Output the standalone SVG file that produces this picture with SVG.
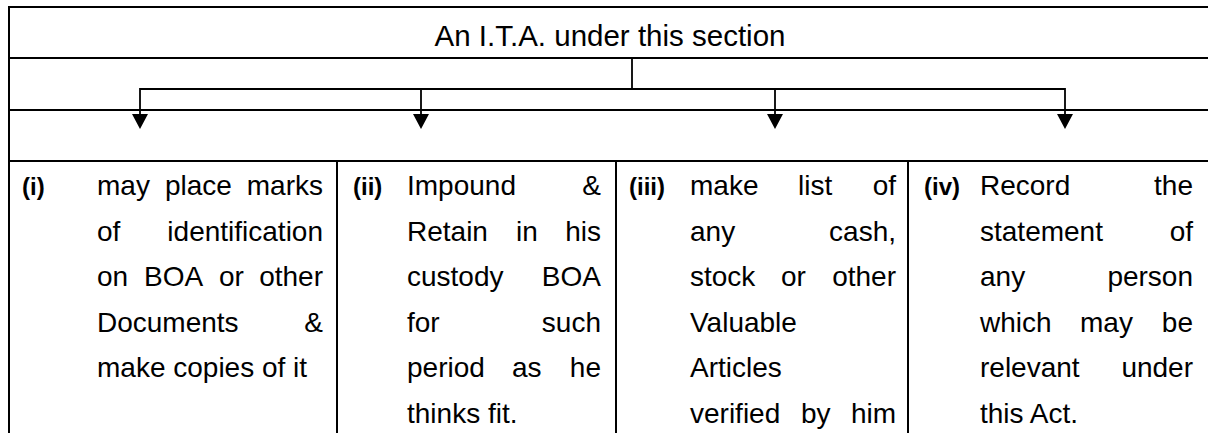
<svg xmlns="http://www.w3.org/2000/svg" width="1208" height="433" viewBox="0 0 1208 433">
<style>
  .grid { stroke: #000; stroke-width: 2; fill: none; }
  .conn { stroke: #000; stroke-width: 1.8; fill: none; }
  .t { font-family: "Liberation Sans", Arial, sans-serif; font-size: 28px; fill: #000; }
  .title { font-family: "Liberation Sans", Arial, sans-serif; font-size: 29.5px; fill: #000; text-anchor: middle; }
  .lbl { font-family: "Liberation Sans", Arial, sans-serif; font-size: 24px; font-weight: bold; fill: #000; }
  .e { text-anchor: end; }
</style>
<defs>
  <marker id="arrow" viewBox="0 0 15 16" markerWidth="15" markerHeight="16" refX="8" refY="8" orient="auto" markerUnits="userSpaceOnUse">
    <path d="M0,0 L15,8 L0,16 z" fill="#000"/>
  </marker>
</defs>
<rect width="1208" height="433" fill="#fff"/>
<g id="table" class="grid">
  <path d="M9,7 H1208 M9,58 H1208 M9,110 H1208 M9,161 H1208"/>
  <path d="M9,6 V433 M337,161 V433 M616,161 V433 M908,161 V433"/>
</g>
<g id="node-title">
  <text class="title" x="610" y="45.5">An I.T.A. under this section</text>
</g>
<g id="connectors">
  <path class="conn" d="M632,58 V89 H140 V122" marker-end="url(#arrow)"/>
  <path class="conn" d="M632,89 H421 V122" marker-end="url(#arrow)"/>
  <path class="conn" d="M632,89 H775 V122" marker-end="url(#arrow)"/>
  <path class="conn" d="M632,89 H1065 V122" marker-end="url(#arrow)"/>
</g>
<g id="node-i">
  <text class="lbl" x="22" y="195">(i)</text>
  <text class="t" y="195"><tspan x="97">may</tspan><tspan x="165">place</tspan><tspan x="323" class="e">marks</tspan></text>
  <text class="t" y="240.5"><tspan x="97">of</tspan><tspan x="323" class="e">identification</tspan></text>
  <text class="t" y="286"><tspan x="97">on</tspan><tspan x="144">BOA</tspan><tspan x="219">or</tspan><tspan x="323" class="e">other</tspan></text>
  <text class="t" y="331.5"><tspan x="97">Documents</tspan><tspan x="323" class="e">&amp;</tspan></text>
  <text class="t" x="97" y="377">make copies of it</text>
</g>
<g id="node-ii">
  <text class="lbl" x="353" y="195">(ii)</text>
  <text class="t" y="195"><tspan x="407">Impound</tspan><tspan x="601" class="e">&amp;</tspan></text>
  <text class="t" y="240.5"><tspan x="407">Retain</tspan><tspan x="516">in</tspan><tspan x="601" class="e">his</tspan></text>
  <text class="t" y="286"><tspan x="407">custody</tspan><tspan x="601" class="e">BOA</tspan></text>
  <text class="t" y="331.5"><tspan x="407">for</tspan><tspan x="601" class="e">such</tspan></text>
  <text class="t" y="377"><tspan x="407">period</tspan><tspan x="512">as</tspan><tspan x="601" class="e">he</tspan></text>
  <text class="t" x="407" y="422.5">thinks fit.</text>
</g>
<g id="node-iii">
  <text class="lbl" x="629" y="195">(iii)</text>
  <text class="t" y="195"><tspan x="690">make</tspan><tspan x="798">list</tspan><tspan x="896" class="e">of</tspan></text>
  <text class="t" y="240.5"><tspan x="690">any</tspan><tspan x="896" class="e">cash,</tspan></text>
  <text class="t" y="286"><tspan x="690">stock</tspan><tspan x="781">or</tspan><tspan x="896" class="e">other</tspan></text>
  <text class="t" x="690" y="331.5">Valuable</text>
  <text class="t" x="690" y="377">Articles</text>
  <text class="t" y="422.5"><tspan x="690">verified</tspan><tspan x="801">by</tspan><tspan x="896" class="e">him</tspan></text>
</g>
<g id="node-iv">
  <text class="lbl" x="924" y="195">(iv)</text>
  <text class="t" y="195"><tspan x="980">Record</tspan><tspan x="1193" class="e">the</tspan></text>
  <text class="t" y="240.5"><tspan x="980">statement</tspan><tspan x="1193" class="e">of</tspan></text>
  <text class="t" y="286"><tspan x="980">any</tspan><tspan x="1193" class="e">person</tspan></text>
  <text class="t" y="331.5"><tspan x="980">which</tspan><tspan x="1080">may</tspan><tspan x="1193" class="e">be</tspan></text>
  <text class="t" y="377"><tspan x="980">relevant</tspan><tspan x="1193" class="e">under</tspan></text>
  <text class="t" x="980" y="422.5">this Act.</text>
</g>
</svg>
